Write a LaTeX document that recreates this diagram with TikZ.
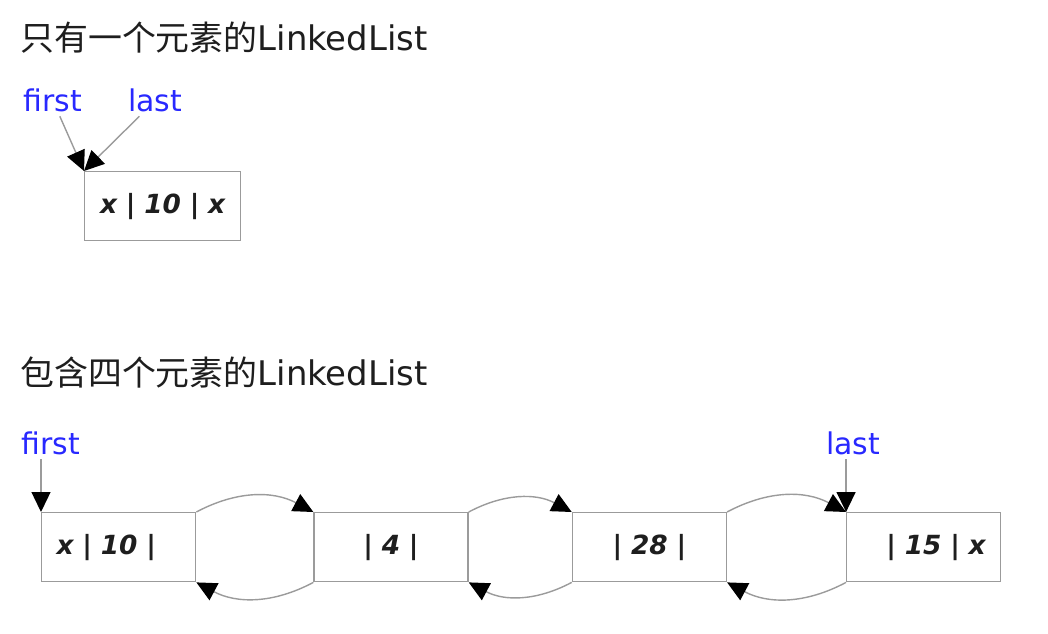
\documentclass[tikz,border=0pt]{standalone}
\usepackage{fontspec}
\setmainfont{DejaVu Sans}
\newfontfamily\cjk{Noto Sans CJK SC}
\usetikzlibrary{arrows.meta, positioning}

\definecolor{ptrblue}{RGB}{40,40,255}
\definecolor{linegray}{RGB}{155,155,155}
\definecolor{inkgray}{RGB}{30,30,30}

\begin{document}
\begin{tikzpicture}[
  x=0.02cm, y=-0.02cm,
  title/.style={anchor=base west, inner sep=0pt, text=inkgray, font=\fontsize{19.3pt}{22pt}\selectfont},
  ptrlbl/.style={anchor=base, inner sep=2pt, text=ptrblue, font=\fontsize{17pt}{20pt}\selectfont},
  cell/.style={draw=linegray, line width=0.8pt, minimum height=1.38cm, inner xsep=0.3cm,
               text width=2.48cm, align=center, text=inkgray,
               font=\fontsize{15pt}{18pt}\selectfont\bfseries\itshape},
  ptr/.style={draw=linegray, line width=0.8pt, -{Triangle[length=0.4cm, width=0.38cm, color=black]}},
  link/.style={ptr, bend left=28}
]
\useasboundingbox (0,0) rectangle (1048,634);

% one element
\node[title] (title1) at (20,51) {{\cjk 只有一个元素的}LinkedList};
\node[ptrlbl] (first1) at (53,112) {first};
\node[ptrlbl] (last1)  at (155,112) {last};
\node[cell, anchor=north west, text width=2.52cm, text depth=0.1cm] (single) at (84,171) {x | 10 | x};

\draw[ptr] (first1) -- (single.north west);
\draw[ptr] (last1)  -- (single.north west);

% four elements
\node[title] (title2) at (20,386) {{\cjk 包含四个元素的}LinkedList};
\node[cell, anchor=north west, align=left] (n1) at (41,512) {x | 10 |};
\node[cell, right=2.34cm of n1] (n2) {| 4 |};
\node[cell, right=2.06cm of n2]  (n3) {| 28 |};
\node[cell, right=2.38cm of n3, align=right] (n4) {| 15 | x};

\node[ptrlbl] (first2) at (51,455) {first};
\node[ptrlbl] (last2)  at (853,455) {last};

\draw[ptr] (first2.south -| n1.north west) -- (n1.north west);
\draw[ptr] (last2.south -| n4.north west)  -- (n4.north west);

\foreach \a/\b in {n1/n2, n2/n3, n3/n4} {
  \draw[link] (\a.north east) to (\b.north west);
  \draw[link] (\b.south west) to (\a.south east);
}
\end{tikzpicture}
\end{document}
